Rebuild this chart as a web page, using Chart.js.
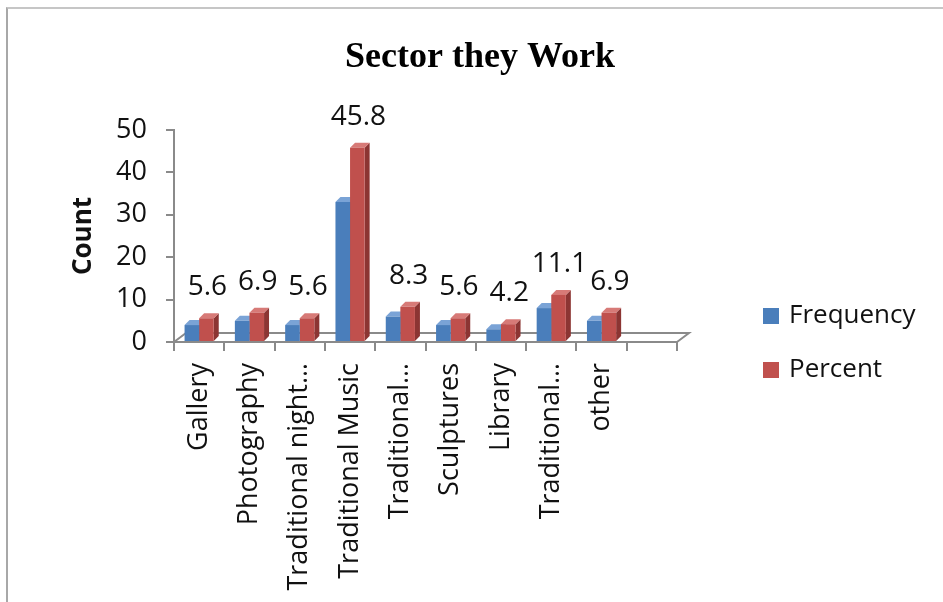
<!DOCTYPE html>
<html>
<head>
<meta charset="utf-8">
<title>Sector they Work</title>
<script src="https://cdn.jsdelivr.net/npm/chart.js@4.4.1/dist/chart.umd.min.js"></script>
<style>
  html, body { margin: 0; padding: 0; background: #fff; overflow: hidden; }
  #marco { position: absolute; left: 6px; top: 7px; width: 980px; height: 640px;
           border-left: 2px solid #a8a8a8; border-top: 2px solid #c6c6c6; }
  #contenedor { position: absolute; left: 0; top: 0; width: 943px; height: 602px; }
</style>
</head>
<body>
<div id="marco"></div>
<div id="contenedor"><canvas id="grafica"></canvas></div>
<script>
// datos del gráfico
const titulo = 'Sector they Work';
const categorias = ['Gallery', 'Photography', 'Traditional night…', 'Traditional Music',
  'Traditional…', 'Sculptures', 'Library', 'Traditional…', 'other'];
const frecuencia = [4, 5, 4, 33, 6, 4, 3, 8, 5];
const porcentaje = [5.6, 6.9, 5.6, 45.8, 8.3, 5.6, 4.2, 11.1, 6.9];
const maxY = 50;
const pasoY = 10;

const FUENTE = '"Open Sans", sans-serif';
const GRIS = '#8a8a8a';
const PROF = 5;          // profundidad de las barras
const PISO_X = 12, PISO_Y = 9;

// colores: frente, lateral, tapa
const tonos = [
  { frente: '#4a7ebb', lado: '#2f5a8e', tapa: '#7aa3d6' },
  { frente: '#c0504d', lado: '#8c3533', tapa: '#d77a77' }
];

// piso y caras laterales/superiores de las columnas
const barras3d = {
  id: 'barras3d',
  beforeDatasetsDraw(chart) {
    const { ctx, chartArea: a } = chart;
    ctx.save();
    ctx.strokeStyle = GRIS;
    ctx.lineWidth = 2;
    ctx.beginPath();
    ctx.moveTo(a.left, a.bottom);
    ctx.lineTo(a.left + PISO_X, a.bottom - PISO_Y);
    ctx.lineTo(a.right + PISO_X, a.bottom - PISO_Y);
    ctx.lineTo(a.right, a.bottom);
    ctx.stroke();

    chart.data.datasets.forEach((ds, i) => {
      const t = tonos[i];
      chart.getDatasetMeta(i).data.forEach(bar => {
        const { x, y, base, width } = bar.getProps(['x', 'y', 'base', 'width'], true);
        if (y == null || isNaN(y)) return;
        const l = x - width / 2, r = x + width / 2;
        ctx.fillStyle = t.lado;
        ctx.beginPath();
        ctx.moveTo(r, y);
        ctx.lineTo(r + PROF, y - PROF);
        ctx.lineTo(r + PROF, base - PROF);
        ctx.lineTo(r, base);
        ctx.closePath();
        ctx.fill();
        ctx.fillStyle = t.tapa;
        ctx.beginPath();
        ctx.moveTo(l, y);
        ctx.lineTo(l + PROF, y - PROF);
        ctx.lineTo(r + PROF, y - PROF);
        ctx.lineTo(r, y);
        ctx.closePath();
        ctx.fill();
      });
    });
    ctx.restore();
  },
  afterDatasetsDraw(chart) {
    // valores del porcentaje sobre cada columna
    const { ctx } = chart;
    ctx.save();
    ctx.font = '28px ' + FUENTE;
    ctx.fillStyle = '#111';
    ctx.textAlign = 'center';
    ctx.textBaseline = 'alphabetic';
    chart.getDatasetMeta(1).data.forEach((bar, k) => {
      const v = chart.data.datasets[1].data[k];
      if (v == null) return;
      ctx.fillText(String(v), bar.x + 1, bar.y - 23);
    });
    ctx.restore();
  },
  afterDraw(chart) {
    const { ctx } = chart;
    ctx.save();
    // título
    ctx.font = 'bold 36px "Liberation Serif", serif';
    ctx.fillStyle = '#000';
    ctx.textAlign = 'center';
    ctx.textBaseline = 'alphabetic';
    ctx.fillText(titulo, 480, 67);
    // leyenda
    ctx.font = '26px ' + FUENTE;
    ctx.textAlign = 'left';
    ctx.textBaseline = 'middle';
    chart.data.datasets.forEach((ds, i) => {
      const yc = 316 + i * 54;
      ctx.fillStyle = ds.backgroundColor;
      ctx.fillRect(763, yc - 8, 16, 16);
      ctx.fillStyle = '#111';
      ctx.fillText(ds.label, 789, yc);
    });
    ctx.restore();
  }
};

new Chart(document.getElementById('grafica'), {
  type: 'bar',
  data: {
    labels: [...categorias, ''],
    datasets: [
      { label: 'Frequency', data: frecuencia, backgroundColor: tonos[0].frente },
      { label: 'Percent', data: porcentaje, backgroundColor: tonos[1].frente }
    ]
  },
  options: {
    responsive: true,
    maintainAspectRatio: false,
    animation: false,
    layout: { padding: { left: 64, right: 266, top: 130, bottom: 0 } },
    datasets: { bar: { categoryPercentage: 0.58, barPercentage: 1.0, borderWidth: 0 } },
    plugins: {
      legend: { display: false },
      title: { display: false },
      tooltip: { enabled: false }
    },
    scales: {
      x: {
        afterFit: s => { s.height = 260; },
        ticks: {
          autoSkip: false, maxRotation: 90, minRotation: 90,
          padding: 12, color: '#111', font: { family: FUENTE, size: 27 }
        },
        grid: { drawOnChartArea: false, drawTicks: true, tickLength: 9, color: GRIS, lineWidth: 2 },
        border: { display: true, color: GRIS, width: 2 }
      },
      y: {
        min: 0,
        max: maxY,
        afterFit: s => { s.width = 110; },
        ticks: { stepSize: pasoY, padding: 19, color: '#111', font: { family: FUENTE, size: 27 } },
        grid: { drawOnChartArea: false, drawTicks: true, tickLength: 8, color: GRIS, lineWidth: 2 },
        border: { display: true, color: GRIS, width: 2 },
        title: {
          display: true, text: 'Count', color: '#111',
          font: { family: FUENTE, size: 26, weight: 'bold' },
          padding: { top: 4, bottom: 0 }
        }
      }
    }
  },
  plugins: [barras3d]
});
</script>
</body>
</html>
